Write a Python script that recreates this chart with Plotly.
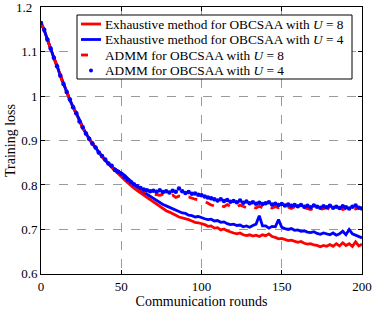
import plotly.graph_objects as go

rounds = list(range(0, 201, 2))

exh_u8 = [1.165, 1.148, 1.128, 1.106, 1.087, 1.066, 1.047, 1.026, 1.010, 0.991,
          0.976, 0.960, 0.944, 0.928, 0.917, 0.903, 0.894, 0.883, 0.874, 0.864,
          0.855, 0.847, 0.840, 0.832, 0.826, 0.820, 0.812, 0.805, 0.798, 0.793,
          0.787, 0.782, 0.776, 0.771, 0.767, 0.762, 0.757, 0.752, 0.746, 0.742,
          0.739, 0.736, 0.732, 0.728, 0.726, 0.725, 0.722, 0.719, 0.716, 0.715,
          0.713, 0.711, 0.707, 0.708, 0.703, 0.704, 0.699, 0.701, 0.697, 0.694,
          0.692, 0.690, 0.692, 0.688, 0.686, 0.688, 0.685, 0.687, 0.684, 0.688,
          0.686, 0.690, 0.684, 0.682, 0.679, 0.680, 0.677, 0.675, 0.676, 0.673,
          0.671, 0.673, 0.669, 0.667, 0.668, 0.665, 0.664, 0.661, 0.664, 0.662,
          0.666, 0.662, 0.668, 0.663, 0.670, 0.664, 0.668, 0.662, 0.672, 0.663,
          0.667]

exh_u4 = [1.163, 1.150, 1.126, 1.108, 1.085, 1.068, 1.045, 1.028, 1.007, 0.993,
          0.974, 0.962, 0.946, 0.931, 0.915, 0.905, 0.892, 0.885, 0.872, 0.866,
          0.856, 0.849, 0.841, 0.836, 0.831, 0.828, 0.822, 0.815, 0.808, 0.801,
          0.795, 0.789, 0.784, 0.779, 0.774, 0.770, 0.765, 0.761, 0.756, 0.753,
          0.750, 0.747, 0.743, 0.740, 0.737, 0.736, 0.732, 0.731, 0.728, 0.729,
          0.726, 0.724, 0.722, 0.723, 0.719, 0.720, 0.716, 0.717, 0.713, 0.711,
          0.712, 0.709, 0.710, 0.706, 0.708, 0.705, 0.709, 0.712, 0.731, 0.708,
          0.708, 0.703, 0.707, 0.706, 0.722, 0.705, 0.702, 0.700, 0.702, 0.698,
          0.699, 0.696, 0.697, 0.694, 0.693, 0.695, 0.691, 0.689, 0.692, 0.690,
          0.688, 0.692, 0.687, 0.690, 0.696, 0.688, 0.700, 0.690, 0.687, 0.684,
          0.681]

admm_u8 = [1.166, 1.147, 1.129, 1.104, 1.088, 1.064, 1.048, 1.024, 1.011, 0.989,
           0.977, 0.958, 0.945, 0.927, 0.919, 0.902, 0.895, 0.882, 0.876, 0.863,
           0.856, 0.846, 0.842, 0.833, 0.829, 0.824, 0.815, 0.808, 0.800, 0.795,
           0.791, 0.788, 0.785, 0.783, 0.781, 0.780, 0.779, 0.777, 0.779, 0.776,
           0.774, 0.777, 0.772, 0.775, 0.773, 0.771, 0.773, 0.770, 0.768, 0.767,
           0.766, 0.763, 0.758, 0.755, 0.753, 0.750, 0.754, 0.751, 0.756, 0.752,
           0.754, 0.750, 0.755, 0.752, 0.749, 0.753, 0.750, 0.748, 0.752, 0.749,
           0.753, 0.750, 0.748, 0.751, 0.749, 0.752, 0.748, 0.750, 0.747, 0.751,
           0.748, 0.746, 0.749, 0.747, 0.745, 0.748, 0.746, 0.744, 0.747, 0.749,
           0.745, 0.748, 0.746, 0.749, 0.745, 0.747, 0.744, 0.748, 0.746, 0.750,
           0.747]

admm_u4 = [1.164, 1.149, 1.127, 1.107, 1.086, 1.067, 1.046, 1.027, 1.009, 0.992,
           0.975, 0.961, 0.943, 0.930, 0.916, 0.904, 0.893, 0.884, 0.873, 0.865,
           0.857, 0.848, 0.843, 0.834, 0.830, 0.825, 0.818, 0.812, 0.806, 0.801,
           0.797, 0.793, 0.790, 0.788, 0.786, 0.787, 0.785, 0.788, 0.784, 0.786,
           0.783, 0.787, 0.785, 0.792, 0.786, 0.782, 0.784, 0.780, 0.781, 0.778,
           0.777, 0.774, 0.772, 0.770, 0.768, 0.765, 0.768, 0.764, 0.766, 0.762,
           0.764, 0.761, 0.765, 0.760, 0.763, 0.759, 0.761, 0.758, 0.760, 0.757,
           0.759, 0.761, 0.756, 0.758, 0.755, 0.757, 0.754, 0.756, 0.753, 0.755,
           0.752, 0.755, 0.751, 0.753, 0.750, 0.754, 0.751, 0.749, 0.752, 0.750,
           0.753, 0.749, 0.751, 0.748, 0.752, 0.750, 0.747, 0.751, 0.754, 0.749,
           0.747]

series_names = [
    "Exhaustive method for OBCSAA with <i>U</i> = 8",
    "Exhaustive method for OBCSAA with <i>U</i> = 4",
    "ADMM for OBCSAA with <i>U</i> = 8",
    "ADMM for OBCSAA with <i>U</i> = 4",
]

x_ticks = [0, 50, 100, 150, 200]
y_ticks = [0.6, 0.7, 0.8, 0.9, 1.0, 1.1, 1.2]
y_tick_labels = ["0.6", "0.7", "0.8", "0.9", "1", "1.1", "1.2"]

FONT = "'Liberation Serif', 'Times New Roman', 'DejaVu Serif', serif"
RED = "#ff0000"
BLUE = "#0000ff"
LW = 2.8

fig = go.Figure()
fig.add_trace(go.Scatter(x=rounds, y=exh_u8, mode="lines",
                         line=dict(color=RED, width=LW), name=series_names[0]))
fig.add_trace(go.Scatter(x=rounds, y=exh_u4, mode="lines",
                         line=dict(color=BLUE, width=LW), name=series_names[1]))
fig.add_trace(go.Scatter(x=rounds, y=admm_u8, mode="lines",
                         line=dict(color=RED, width=LW, dash="dash"), name=series_names[2]))
fig.add_trace(go.Scatter(x=rounds, y=admm_u4, mode="markers",
                         marker=dict(color=BLUE, size=4.5), name=series_names[3]))

axis_common = dict(
    showline=True, linecolor="black", linewidth=1, mirror="ticks",
    ticks="inside", ticklen=4, tickcolor="black",
    showgrid=True, gridcolor="#9a9a9a", griddash="dash", gridwidth=1,
    zeroline=False, automargin=False, ticklabeloverflow="allow",
    tickfont=dict(family=FONT, size=13, color="black"),
)

# ---- hand-built legend box (paper coordinates of the plot area) ----
W, H, L, T, B = 374, 314, 41, 7, 40
PW, PH = W - L - 12, H - T - B


def px(xp):
    return (xp - L) / PW


def py(yp):
    return (H - B - yp) / PH


shapes = [dict(type="rect", xref="paper", yref="paper",
               x0=px(77), x1=px(352), y0=py(79), y1=py(15),
               line=dict(color="black", width=1), fillcolor="white", layer="above")]
annotations = []
row_y = [24, 39.5, 55, 70.5]
styles = [("solid", RED), ("solid", BLUE), ("dash", RED), ("dot", BLUE)]
for (kind, col), ry, name in zip(styles, row_y, series_names):
    if kind == "dot":
        shapes.append(dict(type="circle", xref="paper", yref="paper",
                           x0=px(89), x1=px(93), y0=py(ry + 2), y1=py(ry - 2),
                           line=dict(color=col, width=0), fillcolor=col, layer="above"))
    elif kind == "dash":
        shapes.append(dict(type="line", xref="paper", yref="paper",
                           x0=px(81), x1=px(88), y0=py(ry), y1=py(ry),
                           line=dict(color=col, width=LW), layer="above"))
    else:
        shapes.append(dict(type="line", xref="paper", yref="paper",
                           x0=px(81), x1=px(101), y0=py(ry), y1=py(ry),
                           line=dict(color=col, width=LW), layer="above"))
    annotations.append(dict(xref="paper", yref="paper", x=px(103), y=py(ry),
                            xanchor="left", yanchor="middle", showarrow=False,
                            text=name, font=dict(family=FONT, size=13.3, color="black")))

# the top y tick label is drawn as an annotation (plotly drops it at the div edge)
shown_labels = y_tick_labels[:-1] + [""]
annotations.append(dict(xref="paper", yref="y", x=0, y=y_ticks[-1],
                        xanchor="right", yanchor="middle", xshift=-7,
                        showarrow=False, text=y_tick_labels[-1],
                        font=dict(family=FONT, size=13, color="black")))

fig.update_layout(
    width=W, height=H,
    margin=dict(l=L, r=12, t=T, b=B, autoexpand=False),
    paper_bgcolor="white", plot_bgcolor="white",
    font=dict(family=FONT, color="black"),
    xaxis=dict(range=[0, 200], tickvals=x_ticks,
               title=dict(text="Communication rounds", font=dict(family=FONT, size=14), standoff=2),
               **axis_common),
    yaxis=dict(range=[0.5998, 1.2002], tickvals=y_ticks, ticktext=shown_labels,
               title=dict(text="Training loss", font=dict(family=FONT, size=14), standoff=2),
               **axis_common),
    showlegend=False,
    shapes=shapes,
    annotations=annotations,
)

fig.write_html("out.html", config={"displayModeBar": False},
               post_script="document.body.style.margin='0';")
